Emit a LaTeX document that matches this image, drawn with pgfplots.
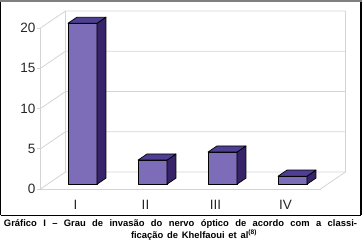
\documentclass[border=0pt]{standalone}
\usepackage{fontspec}
\setmainfont{Liberation Sans}
\usepackage{pgfplots}
\pgfplotsset{compat=1.18}
\definecolor{barfront}{HTML}{7D6DB8}
\definecolor{bartop}{HTML}{4E3F93}
\definecolor{barside}{HTML}{372369}
\definecolor{gridc}{HTML}{D4D4D4}
\begin{document}
\begin{tikzpicture}[x=1pt,y=1pt]
\path[use as bounding box] (0,0) rectangle (362,247);
% frame
\draw[black,line width=1pt] (0.5,32) -- (360.5,32);
\draw[black,line width=1pt] (0.5,32) -- (0.5,246);
\draw[black,line width=2pt] (360.5,32) -- (360.5,247);
\draw[gray,line width=2pt] (0,246) -- (361.5,246);
% front plane axis (ticks and labels)
\begin{axis}[
  x={(70pt,0pt)}, y={(0pt,8.05pt)},
  anchor=origin, at={(75.5pt,58pt)},
  xmin=-0.5, xmax=3.5, ymin=0, ymax=20,
  axis x line*=bottom, axis y line*=left,
  axis line style={-, draw=gridc, line width=0.8pt},
  xtick={0,1,2,3}, xticklabels={I,II,III,IV},
  ytick={0,5,10,15,20},
  xtick style={draw=none},
  ytick style={draw=gridc, line width=0.8pt},
  tick align=outside, major tick length=3pt,
  /pgf/number format/assume math mode=true,
  ticklabel style={font=\fontsize{13.5}{15}\selectfont, text=black!85},
  yticklabel style={inner sep=1pt, xshift=-1pt},
  xticklabel style={yshift=-5pt},
]
\end{axis}
% 3D walls and bars
\begin{axis}[
  x={(70pt,0pt)}, y={(25pt,17pt)}, z={(0pt,8.05pt)},
  anchor=origin, at={(75.5pt,58pt)},
  xmin=-0.5, xmax=3.5, ymin=0, ymax=1, zmin=0, zmax=20,
  hide axis, clip=false,
]
\pgfplotsset{every axis plot/.append style={line join=round}}
% grid on walls
\addplot3[gridc, line width=0.8pt] coordinates {(-0.5,0,0) (-0.5,1,0) (3.5,1,0)};
\addplot3[gridc, line width=0.8pt] coordinates {(-0.5,0,5) (-0.5,1,5) (3.5,1,5)};
\addplot3[gridc, line width=0.8pt] coordinates {(-0.5,0,10) (-0.5,1,10) (3.5,1,10)};
\addplot3[gridc, line width=0.8pt] coordinates {(-0.5,0,15) (-0.5,1,15) (3.5,1,15)};
\addplot3[gridc, line width=0.8pt] coordinates {(-0.5,0,20) (-0.5,1,20) (3.5,1,20)};
\addplot3[gridc, line width=0.8pt] coordinates {(-0.5,1,0) (-0.5,1,20)};
\addplot3[gridc, line width=0.8pt] coordinates {(3.5,0,0) (3.5,1,0) (3.5,1,20)};
% bar I = 20
\addplot3[fill=barfront, draw=black, line width=0.7pt] coordinates {(-0.207,0.28,0) (0.207,0.28,0) (0.207,0.28,20) (-0.207,0.28,20)} -- cycle;
\addplot3[fill=barside, draw=black, line width=0.7pt] coordinates {(0.207,0.28,0) (0.207,0.64,0) (0.207,0.64,20) (0.207,0.28,20)} -- cycle;
\addplot3[fill=bartop, draw=black, line width=0.7pt] coordinates {(-0.207,0.28,20) (0.207,0.28,20) (0.207,0.64,20) (-0.207,0.64,20)} -- cycle;
% bar II = 3
\addplot3[fill=barfront, draw=black, line width=0.7pt] coordinates {(0.793,0.28,0) (1.207,0.28,0) (1.207,0.28,3) (0.793,0.28,3)} -- cycle;
\addplot3[fill=barside, draw=black, line width=0.7pt] coordinates {(1.207,0.28,0) (1.207,0.64,0) (1.207,0.64,3) (1.207,0.28,3)} -- cycle;
\addplot3[fill=bartop, draw=black, line width=0.7pt] coordinates {(0.793,0.28,3) (1.207,0.28,3) (1.207,0.64,3) (0.793,0.64,3)} -- cycle;
% bar III = 4
\addplot3[fill=barfront, draw=black, line width=0.7pt] coordinates {(1.793,0.28,0) (2.207,0.28,0) (2.207,0.28,4) (1.793,0.28,4)} -- cycle;
\addplot3[fill=barside, draw=black, line width=0.7pt] coordinates {(2.207,0.28,0) (2.207,0.64,0) (2.207,0.64,4) (2.207,0.28,4)} -- cycle;
\addplot3[fill=bartop, draw=black, line width=0.7pt] coordinates {(1.793,0.28,4) (2.207,0.28,4) (2.207,0.64,4) (1.793,0.64,4)} -- cycle;
% bar IV = 1
\addplot3[fill=barfront, draw=black, line width=0.7pt] coordinates {(2.793,0.28,0) (3.207,0.28,0) (3.207,0.28,1) (2.793,0.28,1)} -- cycle;
\addplot3[fill=barside, draw=black, line width=0.7pt] coordinates {(3.207,0.28,0) (3.207,0.64,0) (3.207,0.64,1) (3.207,0.28,1)} -- cycle;
\addplot3[fill=bartop, draw=black, line width=0.7pt] coordinates {(2.793,0.28,1) (3.207,0.28,1) (3.207,0.64,1) (2.793,0.64,1)} -- cycle;
\end{axis}
% caption
\node[anchor=base, inner sep=0pt, font=\bfseries\fontsize{9.4}{11}\selectfont] at (180.5,20.5)
  {\makebox[353pt][s]{Gráfico I – Grau de invasão do nervo óptico de acordo com a classi-}};
\node[anchor=base, inner sep=0pt, font=\bfseries\fontsize{9.4}{11}\selectfont] at (194,9)
  {\makebox[126pt][s]{ficação de Khelfaoui et al\textsuperscript{(8)}}};
\end{tikzpicture}
\end{document}
